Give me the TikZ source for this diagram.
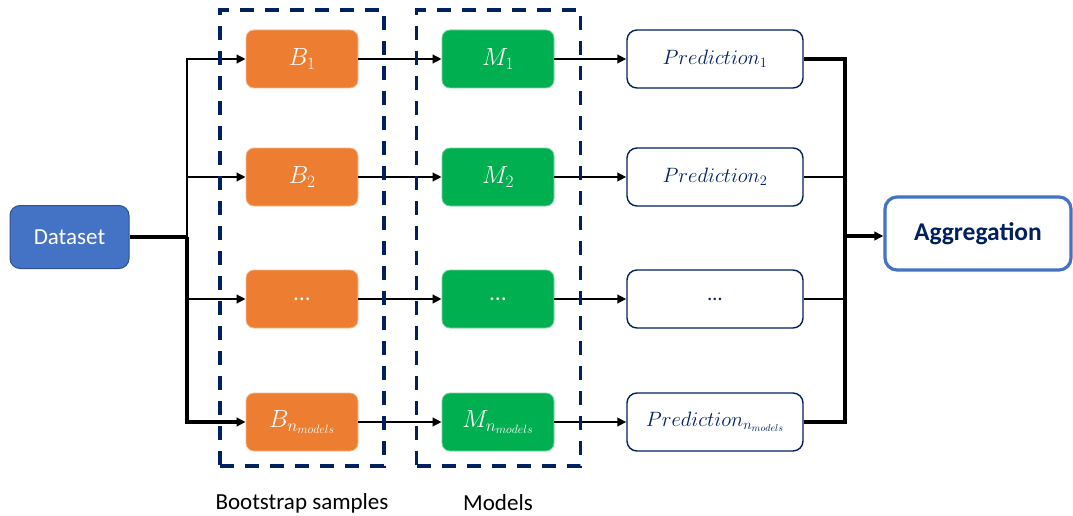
\documentclass[tikz,border=0pt]{standalone}
\usepackage{fontspec}
\setmainfont{Carlito}
\usetikzlibrary{arrows.meta}
\definecolor{navy}{HTML}{002060}
\definecolor{orng}{HTML}{ED7D31}
\definecolor{grn}{HTML}{00B050}
\definecolor{blu}{HTML}{4472C4}
\definecolor{bluedge}{HTML}{2F528F}
\begin{document}
\begin{tikzpicture}[x=1pt,y=-1pt,
  base/.style={inner sep=0pt, font=\fontsize{23.5}{27}\selectfont},
  bbox/.style={base, rounded corners=8pt, fill=orng, draw=orng!55!white, line width=0.8pt,
    minimum width=112pt, minimum height=58pt, text=white},
  mbox/.style={base, rounded corners=8pt, fill=grn, draw=grn!55!white, line width=0.8pt,
    minimum width=112pt, minimum height=58pt, text=white},
  pbox/.style={base, rounded corners=10pt, fill=white, draw=navy, line width=1.4pt,
    minimum width=176pt, minimum height=58pt, text=navy, font=\fontsize{20.5}{24}\selectfont},
  dbox/.style={base, rounded corners=10pt, fill=blu, draw=bluedge, line width=1pt,
    minimum width=119pt, minimum height=63pt, text=white, font=\fontsize{23}{27}\selectfont},
  abox/.style={base, rounded corners=12pt, fill=white, draw=blu, line width=3.2pt,
    minimum width=186pt, minimum height=73pt, text=navy, font=\fontsize{25.5}{30}\selectfont\bfseries},
  grp/.style={draw=navy, line width=3.2pt, dash pattern=on 14pt off 11pt, minimum width=164pt,
    minimum height=456pt, inner sep=0pt},
  lbl/.style={font=\fontsize{23}{27}\selectfont, text=black, inner sep=0pt},
  tip/.style={-{Triangle[length=9pt,width=8.5pt]}},
  trunk/.style={line width=3.4pt, black},
  br/.style={line width=2.5pt, black},
  thn/.style={line width=2.3pt, black}
]
\useasboundingbox (0,0) rectangle (1073,516);

% nodes
\node[dbox] (data) at (69.5,237) {Dataset};

\node[bbox] (b1) at (302,59) {$B_1$};
\node[bbox] (b2) at (302,177) {$B_2$};
\node[bbox] (b3) at (302,299) {…};
\node[bbox] (b4) at (302,422) {$B_{n_{models}}$};

\node[mbox] (m1) at (498,59) {$M_1$};
\node[mbox] (m2) at (498,177) {$M_2$};
\node[mbox] (m3) at (498,299) {…};
\node[mbox] (m4) at (498,422) {$M_{n_{models}}$};

\node[pbox] (p1) at (715,59) {$Prediction_1$};
\node[pbox] (p2) at (715,177) {$Prediction_2$};
\node[pbox] (p3) at (715,299) {…};
\node[pbox] (p4) at (715,422) {$Prediction_{n_{models}}$};

\node[abox] (agg) at (978,233.5) {Aggregation};

\coordinate (jL) at (187,237);
\coordinate (jR) at (845,236);

% left trunk
\draw[trunk] (data.east) -- (jL);
\draw[br,tip] (jL) |- (b1.west);
\draw[br,tip] (jL) |- (b2.west);
\draw[br,tip] (jL) |- (b3.west);
\draw[trunk,tip] (jL) |- (b4.west);

% B -> M -> P
\foreach \i in {1,2,3,4}{
  \draw[thn,tip] (b\i.east) -- (m\i.west);
  \draw[thn,tip] (m\i.east) -- (p\i.west);
}

% right trunk
\draw[trunk] (p1.east) -| (jR);
\draw[br] (p2.east) -| (jR);
\draw[br] (p3.east) -| (jR);
\draw[trunk] (p4.east) -| (jR);
\draw[trunk,tip] (jR) -- (jR -| agg.west);

% groups
\node[grp] (g1) at (302,238) {};
\node[grp] (g2) at (498.5,238) {};

\node[lbl] (l1) at (302,503) {Bootstrap samples};
\node[lbl] (l2) at (498,503) {Models};
\end{tikzpicture}
\end{document}
